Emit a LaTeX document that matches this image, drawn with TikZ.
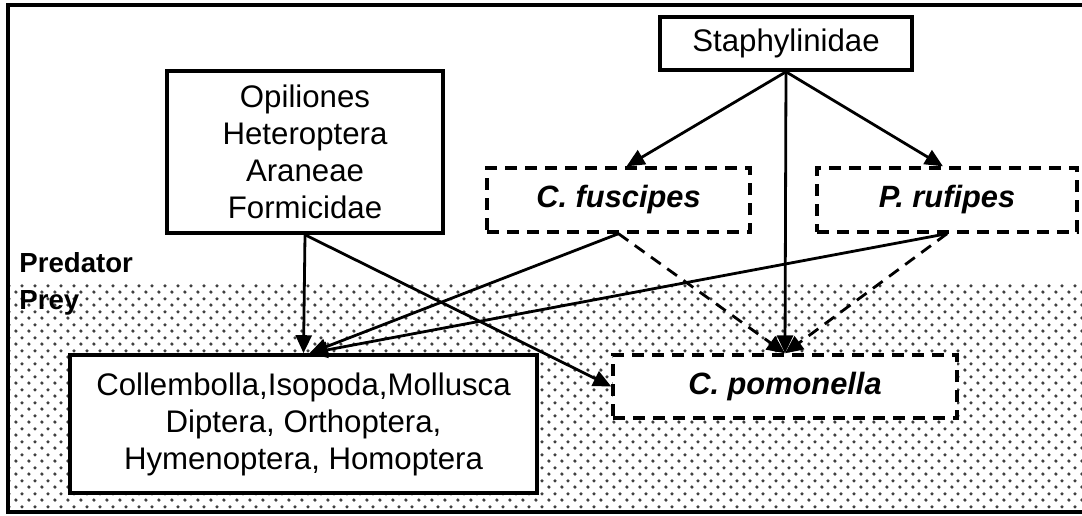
\documentclass[tikz,border=0pt]{standalone}
\usepackage{fontspec}
\setmainfont{Liberation Sans}
\usetikzlibrary{arrows.meta, positioning, patterns}

\pgfdeclarepatternformonly{preydots}{\pgfpointorigin}{\pgfqpoint{6.5pt}{6.5pt}}{\pgfqpoint{6.5pt}{6.5pt}}{
  \pgfpathcircle{\pgfqpoint{1.6pt}{1.6pt}}{0.95pt}
  \pgfpathcircle{\pgfqpoint{4.85pt}{4.85pt}}{0.95pt}
  \pgfusepath{fill}}

\tikzset{
  solidbox/.style={rectangle, draw, line width=1.8pt, fill=white, align=center, inner sep=0pt, font=\fontsize{15.6}{18.5}\selectfont},
  dashbox/.style={rectangle, draw, line width=1.7pt, dash pattern=on 6pt off 4pt, fill=white, inner sep=0pt, font=\fontsize{15.4}{18}\selectfont\bfseries\itshape},
  side/.style={anchor=west, inner sep=0pt, font=\fontsize{13.8}{16}\selectfont\bfseries},
  link/.style={->, line width=1.4pt},
  maybe/.style={->, line width=1.4pt, dash pattern=on 6pt off 4pt}
}

\begin{document}
\begin{tikzpicture}[x=0.5pt, y=-0.5pt, >={Triangle[length=9pt, width=8pt]}]
\clip (0,0) rectangle (1082,515);
\fill [white] (0,0) rectangle (1082,515);

% prey zone and frame
\fill [pattern=preydots, pattern color=black!75] (8,283) rectangle (1095,512);
\draw [line width=2pt] (8,5) rectangle (1095,512);

\node (predator) [side] at (19,263) {Predator};
\node (prey) [side] at (19,303) {Prey};

\node (staph) [solidbox, minimum width=126pt, minimum height=26.5pt] at (786,43.5) {Staphylinidae};
\node (opil) [solidbox, minimum width=138pt, minimum height=81pt] at (305,152) {Opiliones\\Heteroptera\\Araneae\\Formicidae};
\node (fusc) [dashbox, minimum width=131.5pt, minimum height=32pt] at (618.5,200) {C. fuscipes};
\node (rufi) [dashbox, minimum width=130pt, minimum height=32pt] at (947,200) {P. rufipes};
\node (coll) [solidbox, minimum width=233.5pt, minimum height=69pt] at (303.5,424) {Collembolla,Isopoda,Mollusca\\Diptera, Orthoptera,\\Hymenoptera, Homoptera};
\node (pomo) [dashbox, minimum width=172pt, minimum height=31.5pt] at (785,386.5) {C. pomonella};

\draw [link] (staph.south) -- ([xshift=4pt]fusc.north);
\draw [link] (staph.south) -- ([xshift=-2pt]rufi.north);
\draw [link] (staph.south) -- (pomo.north);
\draw [link] (opil.south) -- (coll.north);
\draw [link] (opil.south) -- (pomo.west);
\draw [link] (fusc.south) -- ([xshift=3pt]coll.north);
\draw [link] (rufi.south) -- ([xshift=3pt]coll.north);
\draw [maybe] (fusc.south) -- (pomo.north);
\draw [maybe] (rufi.south) -- (pomo.north);
\end{tikzpicture}
\end{document}
